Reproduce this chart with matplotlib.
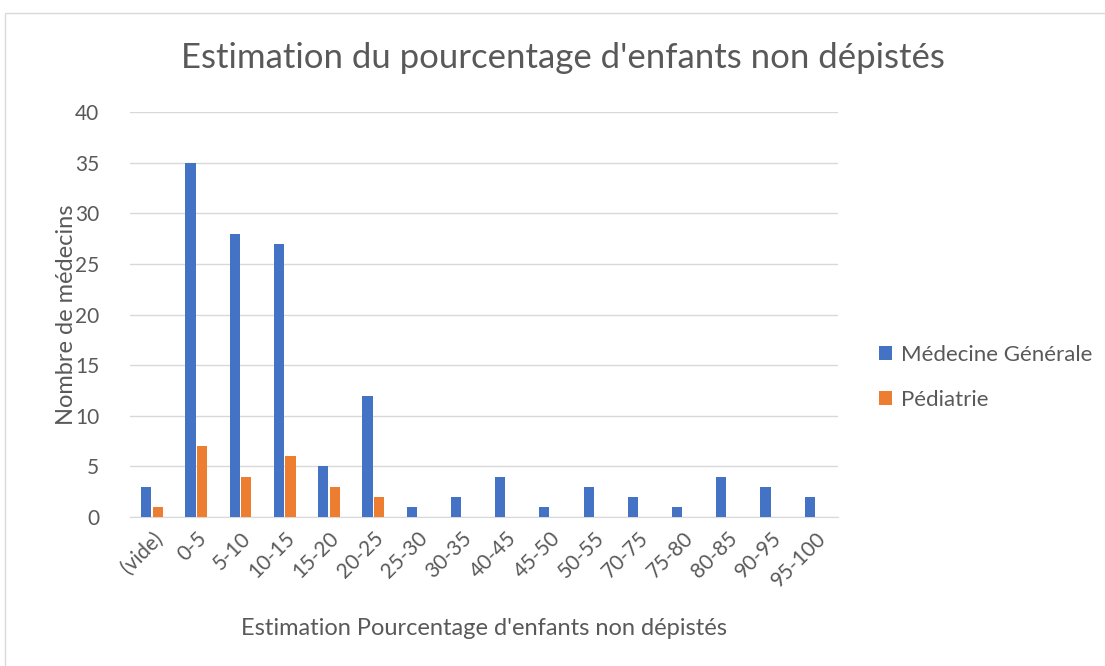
import matplotlib.pyplot as plt
import numpy as np
from matplotlib.patches import Rectangle

plt.rcParams['font.family'] = ['Lato', 'DejaVu Sans']

categories = ['(vide)', '0-5', '5-10', '10-15', '15-20', '20-25', '25-30', '30-35',
              '40-45', '45-50', '50-55', '70-75', '75-80', '80-85', '90-95', '95-100']
medecine_generale = [3, 35, 28, 27, 5, 12, 1, 2, 4, 1, 3, 2, 1, 4, 3, 2]
pediatrie = [1, 7, 4, 6, 3, 2, 0, 0, 0, 0, 0, 0, 0, 0, 0, 0]

gris = '#595959'
fig = plt.figure(figsize=(11.05, 6.66), dpi=100)
ax = fig.add_axes([0.1176, 0.2237, 0.6404, 0.6081])

x = np.arange(len(categories))
ax.bar(x - 0.13, medecine_generale, width=0.23, color='#4472C4', label='Médecine Générale', zorder=3)
ax.bar(x + 0.13, pediatrie, width=0.23, color='#ED7D31', label='Pédiatrie', zorder=3)

ax.set_xlim(-0.5, len(categories) - 0.5)
ax.set_ylim(0, 40)
ax.set_yticks(range(0, 41, 5))
ax.set_xticks(x)
ax.set_xticklabels(categories, rotation=45, ha='right', rotation_mode='anchor')
ax.tick_params(length=0, labelsize=15, colors=gris)
ax.tick_params(axis='x', pad=8)
ax.tick_params(axis='y', pad=22)
ax.grid(axis='y', color='#d9d9d9', linewidth=1, zorder=0)
for s in ['top', 'right', 'left']:
    ax.spines[s].set_visible(False)
ax.spines['bottom'].set_color('#d9d9d9')

ax.set_ylabel('Nombre de médecins', fontsize=17, color=gris, labelpad=-1)
ax.set_xlabel("Estimation Pourcentage d'enfants non dépistés", fontsize=17, color=gris, labelpad=20)
fig.text(0.509, 0.913, "Estimation du pourcentage d'enfants non dépistés",
         ha='center', va='center', fontsize=25, color=gris)

ax.legend(loc='center left', bbox_to_anchor=(1.03, 0.345), frameon=False, fontsize=16,
          labelcolor=gris, handlelength=0.6, handleheight=0.6, handletextpad=0.4,
          labelspacing=1.1)

fig.patches.append(Rectangle((5 / 1105, -0.1), 1.2, (1 - 13 / 666) + 0.1,
                             transform=fig.transFigure, fill=False,
                             edgecolor='#d9d9d9', linewidth=1))

fig.savefig('out.png', dpi=100)
